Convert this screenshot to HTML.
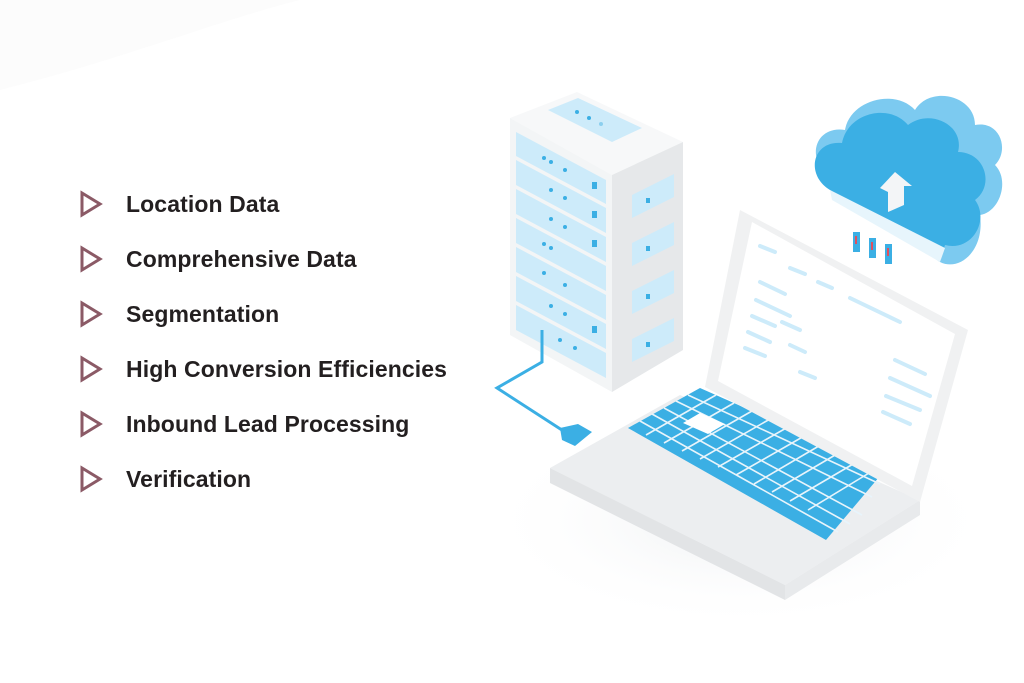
<!DOCTYPE html>
<html><head><meta charset="utf-8"><style>
html,body{margin:0;padding:0;background:#fff;}
body{width:1024px;height:683px;overflow:hidden;position:relative;font-family:"Liberation Sans",sans-serif;}
.item{position:absolute;left:126px;font-size:23px;font-weight:bold;color:#231f20;letter-spacing:0.1px;}
svg{position:absolute;left:0;top:0;}
</style></head><body>
<svg width="1024" height="683" viewBox="0 0 1024 683">
<defs>
<radialGradient id="sh" cx="0.5" cy="0.5" r="0.5"><stop offset="0" stop-color="#eef0f2"/><stop offset="1" stop-color="#fff" stop-opacity="0"/></radialGradient>
</defs>
<path d="M0 90 C120 60 220 20 300 0 L0 0 Z" fill="#fcfcfc"/>
<ellipse cx="740" cy="520" rx="260" ry="110" fill="url(#sh)"/>
<g fill="none" stroke="#8b5a66" stroke-width="3" stroke-linejoin="miter">
<path d="M82 193 L100 204 L82 215 Z"/>
<path d="M82 248 L100 259 L82 270 Z"/>
<path d="M82 303 L100 314 L82 325 Z"/>
<path d="M82 358 L100 369 L82 380 Z"/>
<path d="M82 413 L100 424 L82 435 Z"/>
<path d="M82 468 L100 479 L82 490 Z"/>
</g>
<!-- server -->
<polygon points="510,118 577,92 683,142 612,175" fill="#f7f8f9"/>
<polygon points="548,110 578,98 642,128 612,142" fill="#cdebfa"/>
<circle cx="577" cy="112" r="2" fill="#3bafe4"/><circle cx="589" cy="118" r="2" fill="#3bafe4"/><circle cx="601" cy="124" r="2" fill="#8ccfee"/>
<polygon points="510,118 612,175 612,392 510,335" fill="#f3f5f6"/>
<polygon points="612,175 683,142 683,350 612,392" fill="#e6e8ea"/>
<g fill="#cdebfa">
<polygon points="516,132 606,180 606,204 516,156"/>
<polygon points="516,160 606,208 606,233 516,185"/>
<polygon points="516,189 606,237 606,262 516,214"/>
<polygon points="516,218 606,266 606,291 516,243"/>
<polygon points="516,247 606,295 606,320 516,272"/>
<polygon points="516,276 606,324 606,349 516,301"/>
<polygon points="516,305 606,353 606,378 516,330"/>
<polygon points="632,195 674,174 674,197 632,218"/>
<polygon points="632,243 674,222 674,245 632,266"/>
<polygon points="632,291 674,270 674,293 632,314"/>
<polygon points="632,339 674,318 674,341 632,362"/>
</g>
<g fill="#3bafe4">
<circle cx="544" cy="158" r="2"/><circle cx="551" cy="162" r="2"/><circle cx="565" cy="170" r="2"/>
<circle cx="551" cy="190" r="2"/><circle cx="565" cy="198" r="2"/>
<circle cx="551" cy="219" r="2"/><circle cx="565" cy="227" r="2"/>
<circle cx="544" cy="244" r="2"/><circle cx="551" cy="248" r="2"/>
<circle cx="544" cy="273" r="2"/><circle cx="565" cy="285" r="2"/>
<circle cx="551" cy="306" r="2"/><circle cx="565" cy="314" r="2"/>
<circle cx="560" cy="340" r="2"/><circle cx="575" cy="348" r="2"/>
<rect x="592" y="182" width="5" height="7"/><rect x="592" y="211" width="5" height="7"/><rect x="592" y="240" width="5" height="7"/><rect x="592" y="326" width="5" height="7"/>
<rect x="646" y="198" width="4" height="5"/><rect x="646" y="246" width="4" height="5"/><rect x="646" y="294" width="4" height="5"/><rect x="646" y="342" width="4" height="5"/>
</g>
<!-- cable -->
<path d="M542 330 L542 362 L497 388 L565 432" fill="none" stroke="#3bafe4" stroke-width="3"/>
<polygon points="560,428 578,424 592,432 575,446 562,440" fill="#3bafe4"/>
<!-- laptop base -->
<polygon points="550,468 680,395 920,500 785,585" fill="#eceef0"/>
<polygon points="550,468 785,585 785,600 550,483" fill="#e2e4e6"/>
<polygon points="785,585 920,500 920,515 785,600" fill="#e8eaec"/>
<!-- keyboard -->
<polygon points="628,428 700,388 885,470 826,540" fill="#3bafe4"/>
<g stroke="#e8f4fb" stroke-width="1.6">
<line x1="640" y1="421" x2="838" y2="532"/><line x1="652" y1="414" x2="850" y2="524"/>
<line x1="664" y1="408" x2="862" y2="515"/><line x1="676" y1="401" x2="872" y2="497"/>
<line x1="688" y1="395" x2="880" y2="484"/>
</g>
<g stroke="#e8f4fb" stroke-width="1.6">
<line x1="646" y1="435" x2="716" y2="395"/><line x1="664" y1="443" x2="734" y2="403"/>
<line x1="682" y1="451" x2="752" y2="411"/><line x1="700" y1="459" x2="770" y2="419"/>
<line x1="718" y1="467" x2="788" y2="427"/><line x1="736" y1="475" x2="806" y2="435"/>
<line x1="754" y1="484" x2="824" y2="443"/><line x1="772" y1="492" x2="842" y2="451"/>
<line x1="790" y1="501" x2="860" y2="460"/><line x1="808" y1="510" x2="874" y2="470"/>
</g>
<polygon points="683,423 700,413 725,424 708,434" fill="#fff"/>
<!-- screen -->
<polygon points="740,210 968,330 920,502 705,387" fill="#f0f1f2"/>
<polygon points="752,222 955,334 912,486 718,381" fill="#fff"/>
<g stroke="#cdebfa" stroke-width="4" stroke-linecap="round">
<line x1="760" y1="246" x2="775" y2="252"/><line x1="790" y1="268" x2="805" y2="274"/>
<line x1="818" y1="282" x2="832" y2="288"/><line x1="850" y1="298" x2="900" y2="322"/>
<line x1="760" y1="282" x2="785" y2="294"/><line x1="756" y1="300" x2="790" y2="316"/>
<line x1="752" y1="316" x2="775" y2="326"/><line x1="748" y1="332" x2="770" y2="342"/>
<line x1="782" y1="322" x2="800" y2="330"/><line x1="745" y1="348" x2="765" y2="356"/>
<line x1="790" y1="345" x2="805" y2="352"/><line x1="800" y1="372" x2="815" y2="378"/>
<line x1="895" y1="360" x2="925" y2="374"/><line x1="890" y1="378" x2="930" y2="396"/>
<line x1="886" y1="396" x2="920" y2="410"/><line x1="883" y1="412" x2="910" y2="424"/>
</g>
<!-- cloud -->
<g>
<path d="M830 175 C805 160 815 125 845 130 C850 100 895 88 915 110 C930 85 975 95 975 125 C1000 120 1010 150 995 165 C1010 180 1000 212 980 215 C985 250 960 272 940 262 Z" fill="#7ccaf0"/>
<path d="M830 190 C805 175 812 140 842 143 C848 112 890 103 908 125 C930 108 965 125 958 152 C985 152 995 185 975 200 C990 220 972 252 945 245 L940 262 Z" fill="#3bafe4"/>
<path d="M830 190 L945 248 L940 262 L832 200 Z" fill="#e7f5fc"/>
<polygon points="880,188 895,172 912,186 904,186 904,205 888,212 888,192" fill="#f3f5f7"/>
</g>
<g fill="#3bafe4"><rect x="853" y="232" width="7" height="20"/><rect x="869" y="238" width="7" height="20"/><rect x="885" y="244" width="7" height="20"/></g>
<g fill="#e04f5f"><rect x="855" y="236" width="2" height="8"/><rect x="871" y="242" width="2" height="8"/><rect x="887" y="248" width="2" height="8"/></g>
</svg>
<div class="item" style="top:191px">Location Data</div>
<div class="item" style="top:246px">Comprehensive Data</div>
<div class="item" style="top:301px">Segmentation</div>
<div class="item" style="top:356px">High Conversion Efficiencies</div>
<div class="item" style="top:411px">Inbound Lead Processing</div>
<div class="item" style="top:466px">Verification</div>
</body></html>
